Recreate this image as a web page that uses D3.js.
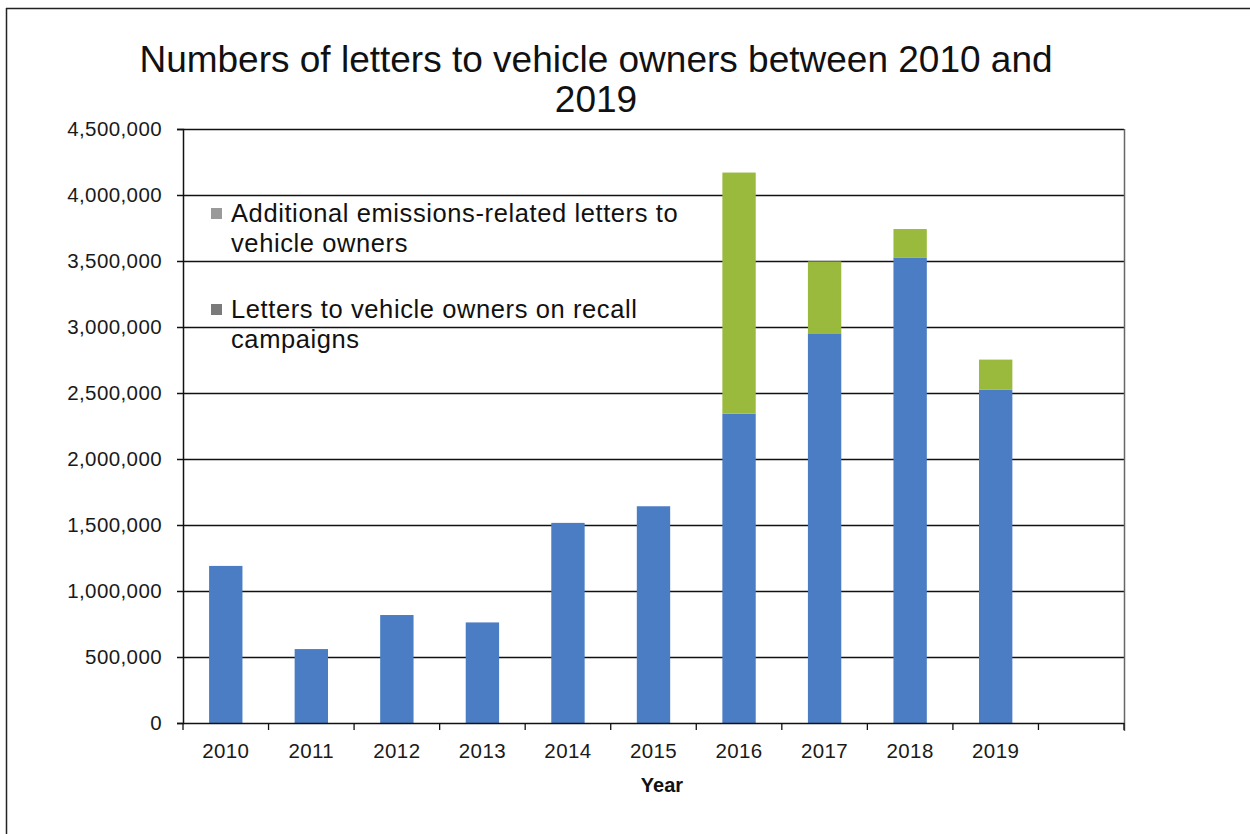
<!DOCTYPE html>
<html>
<head>
<meta charset="utf-8">
<script src="https://cdn.jsdelivr.net/npm/d3@7"></script>
<style>
  html, body { margin: 0; padding: 0; background: #ffffff; }
  svg { display: block; font-family: "Liberation Sans", Arial, sans-serif; }
</style>
</head>
<body>
<svg id="chart" width="1250" height="834"></svg>
<script>
// Years on the x axis (a trailing empty slot keeps the extra cell on the right)
const years = ["2010", "2011", "2012", "2013", "2014", "2015", "2016", "2017", "2018", "2019", ""];

// Letters to vehicle owners on recall campaigns
const recallLetters = [1190000, 560000, 818000, 762000, 1516000, 1642000, 2343000, 2952000, 3527000, 2524000, null];

// Additional emissions-related letters to vehicle owners
const emissionsLetters = [0, 0, 0, 0, 0, 0, 1827000, 545000, 215000, 229000, null];

// Y axis tick values
const yTicks = [0, 500000, 1000000, 1500000, 2000000, 2500000, 3000000, 3500000, 4000000, 4500000];

const titleLines = ["Numbers of letters to vehicle owners between 2010 and", "2019"];
const xAxisTitle = "Year";

// Legend entries, top to bottom, each split over two lines
const legendEntries = [
  { lines: ["Additional emissions-related letters to", "vehicle owners"], swatch: "#9a9a9a" },
  { lines: ["Letters to vehicle owners on recall", "campaigns"], swatch: "#7a7a7a" }
];

const colors = { recall: "#4a7dc4", emissions: "#9aba3d" };

const svg = d3.select("#chart");

// Outer frame
svg.append("line").attr("x1", 6).attr("y1", 8.5).attr("x2", 1250).attr("y2", 8.5)
  .attr("stroke", "#222").attr("stroke-width", 1.5);
svg.append("line").attr("x1", 6.5).attr("y1", 8).attr("x2", 6.5).attr("y2", 834)
  .attr("stroke", "#222").attr("stroke-width", 1.5);

const plot = { left: 183, right: 1124, top: 129, bottom: 723 };

const x = d3.scaleBand()
  .domain(years)
  .range([plot.left, plot.right])
  .paddingInner(0.61)
  .paddingOuter(0.305);

const y = d3.scaleLinear()
  .domain([0, 4500000])
  .range([plot.bottom, plot.top]);

// Horizontal gridlines
svg.append("g")
  .selectAll("line")
  .data(yTicks.filter(d => d > 0))
  .join("line")
  .attr("x1", plot.left)
  .attr("x2", plot.right)
  .attr("y1", d => Math.round(y(d)) + 0.5)
  .attr("y2", d => Math.round(y(d)) + 0.5)
  .attr("stroke", "#111")
  .attr("stroke-width", 1.5);

// Right edge of the plot area
svg.append("line")
  .attr("x1", plot.right + 0.5).attr("x2", plot.right + 0.5)
  .attr("y1", plot.top).attr("y2", plot.bottom + 8)
  .attr("stroke", "#666").attr("stroke-width", 1.5);

// Stacked bars
const stackData = years.map((yr, i) => ({ year: yr, recall: recallLetters[i] || 0, emissions: emissionsLetters[i] || 0 }))
  .filter(d => d.year !== "");
const stack = d3.stack().keys(["recall", "emissions"]);
const series = stack(stackData);

svg.append("g")
  .selectAll("g")
  .data(series)
  .join("g")
  .attr("fill", s => colors[s.key])
  .selectAll("rect")
  .data(s => s.filter(d => d[1] > d[0]))
  .join("rect")
  .attr("x", d => x(d.data.year))
  .attr("width", x.bandwidth())
  .attr("y", d => y(d[1]))
  .attr("height", d => y(d[0]) - y(d[1]));

// Y axis
const yAxis = d3.axisLeft(y)
  .tickValues(yTicks)
  .tickSize(6)
  .tickPadding(15)
  .tickFormat(d3.format(","));

const gy = svg.append("g")
  .attr("transform", `translate(${plot.left},0)`)
  .call(yAxis);
gy.select(".domain").attr("stroke", "#111").attr("stroke-width", 1.5);
gy.selectAll(".tick line").attr("stroke", "#111").attr("stroke-width", 1.5);
gy.selectAll(".tick text")
  .attr("font-size", 20.5)
  .attr("fill", "#1a1a1a")
  .style("letter-spacing", "0.4px")
  .style("font-family", "'Liberation Sans', Arial, sans-serif");

// X axis: labels under each bar, tick marks on the cell boundaries
const gx = svg.append("g").attr("transform", `translate(0,${plot.bottom})`);
gx.append("line")
  .attr("x1", plot.left).attr("x2", plot.right)
  .attr("y1", 0.5).attr("y2", 0.5)
  .attr("stroke", "#111").attr("stroke-width", 1.5);

const step = x.step();
const boundaries = years.map(d => x(d) + x.bandwidth() / 2 - step / 2)
  .concat([x(years[years.length - 1]) + x.bandwidth() / 2 + step / 2]);
gx.selectAll("line.tick")
  .data(boundaries)
  .join("line")
  .attr("class", "tick")
  .attr("x1", d => d).attr("x2", d => d)
  .attr("y1", 0).attr("y2", 7)
  .attr("stroke", "#111").attr("stroke-width", 1.3);

gx.selectAll("text")
  .data(years.filter(d => d !== ""))
  .join("text")
  .attr("x", d => x(d) + x.bandwidth() / 2)
  .attr("y", 35)
  .attr("text-anchor", "middle")
  .attr("font-size", 20.5)
  .attr("fill", "#1a1a1a")
  .style("letter-spacing", "0.4px")
  .text(d => d);

// Axis title
svg.append("text")
  .attr("x", 662).attr("y", 792)
  .attr("text-anchor", "middle")
  .attr("font-size", 20)
  .attr("font-weight", "bold")
  .attr("fill", "#111")
  .text(xAxisTitle);

// Chart title
svg.append("g")
  .selectAll("text")
  .data(titleLines)
  .join("text")
  .attr("x", 596)
  .attr("y", (d, i) => 72 + i * 40)
  .attr("text-anchor", "middle")
  .attr("font-size", 37)
  .attr("fill", "#111")
  .text(d => d);

// Legend
const legend = svg.append("g").attr("transform", "translate(210,0)");
const legendRows = legend.selectAll("g")
  .data(legendEntries)
  .join("g")
  .attr("transform", (d, i) => `translate(0,${222 + i * 96})`);
legendRows.append("rect")
  .attr("x", 1).attr("y", -14)
  .attr("width", 11).attr("height", 11)
  .attr("fill", d => d.swatch);
legendRows.selectAll("text")
  .data(d => d.lines)
  .join("text")
  .attr("x", 21)
  .attr("y", (d, i) => i * 30)
  .attr("font-size", 25.5)
  .attr("fill", "#111")
  .style("letter-spacing", "0.6px")
  .text(d => d);
</script>
</body>
</html>
